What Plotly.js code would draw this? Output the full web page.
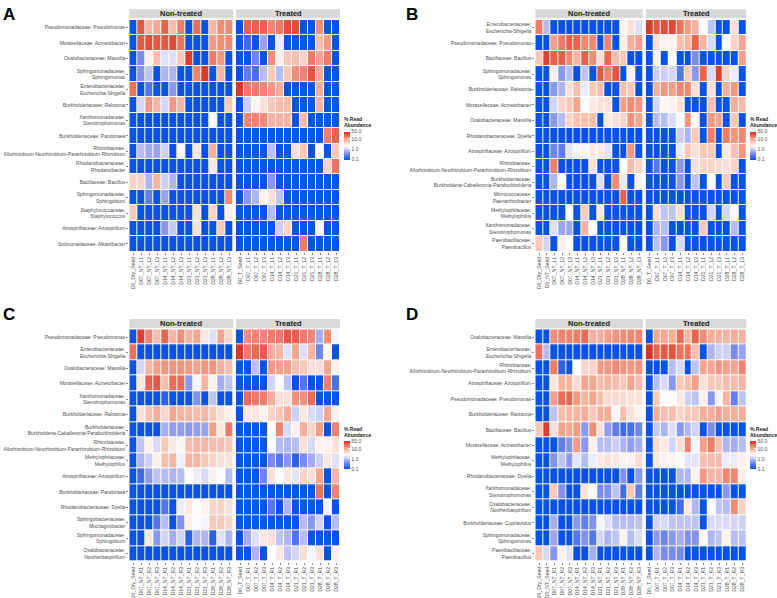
<!DOCTYPE html>
<html>
<head>
<meta charset="utf-8">
<script src="https://cdn.plot.ly/plotly-3.0.1.min.js"></script>
<style>
  html, body { margin: 0; padding: 0; background: #fff; }
  #chart { width: 777px; height: 598px; }
</style>
</head>
<body>
<div id="chart"></div>
<script>
// --- 1. labels ---
const colsA_nt = ["D0_Dry_Seed","D07_NT_L1","D07_NT_L2","D07_NT_L3","D14_NT_L1","D14_NT_L2","D14_NT_L3","D21_NT_L1","D21_NT_L2","D21_NT_L3","D28_NT_L1","D28_NT_L2","D28_NT_L3"];
const colsA_t  = ["D0_T_Seed","D07_T_L1","D07_T_L2","D07_T_L3","D14_T_L1","D14_T_L2","D14_T_L3","D21_T_L1","D21_T_L2","D21_T_L3","D28_T_L1","D28_T_L2","D28_T_L3"];
const colsB_nt = ["D0_Dry_Seed","D0_NT_Seed"].concat(colsA_nt.slice(1));
const colsB_t  = colsA_t;
const colsC_nt = ["D0_Dry_Seed","D07_NT_R1","D07_NT_R2","D07_NT_R3","D14_NT_R1","D14_NT_R2","D14_NT_R3","D21_NT_R1","D21_NT_R2","D21_NT_R3","D28_NT_R1","D28_NT_R2","D28_NT_R3"];
const colsC_t  = ["D0_T_Seed","D07_T_R1","D07_T_R2","D07_T_R3","D14_T_R1","D14_T_R2","D14_T_R3","D21_T_R1","D21_T_R2","D21_T_R3","D28_T_R1","D28_T_R2","D28_T_R3"];
const colsD_nt = ["D0_Dry_Seed","D0_NT_Seed"].concat(colsC_nt.slice(1));
const colsD_t  = colsC_t;

const ALLO = "Rhizobiaceae;<br>Allorhizobium-Neorhizobium-Pararhizobium-Rhizobium";
const BCP = "Burkholderiaceae;<br>Burkholderia-Caballeronia-Paraburkholderia";

const rowsA = ["Pseudomonadaceae; Pseudomonas","Moraxellaceae; Acinetobacter","Oxalobacteraceae; Massilia","Sphingomonadaceae;<br>Sphingomonas","Enterobacteriaceae;<br>Escherichia-Shigella","Burkholderiaceae; Ralstonia","Xanthomonadaceae;<br>Stenotrophomonas","Burkholderiaceae; Pandoraea",ALLO,"Rhodanobacteraceae;<br>Rhodanobacter","Bacillaceae; Bacillus","Sphingomonadaceae;<br>Sphingobium","Staphylococcaceae;<br>Staphylococcus","Azospirillaceae; Azospirillum","Solimonadaceae; Alkanibacter"];
const rowsB = ["Enterobacteriaceae;<br>Escherichia-Shigella","Pseudomonadaceae; Pseudomonas","Bacillaceae; Bacillus","Sphingomonadaceae;<br>Sphingomonas","Burkholderiaceae; Ralstonia","Moraxellaceae; Acinetobacter","Oxalobacteraceae; Massilia","Rhodanobacteraceae; Dyella","Azospirillaceae; Azospirillum",ALLO,BCP,"Micrococcaceae;<br>Paenarthrobacter","Methylophilaceae;<br>Methylophilus","Xanthomonadaceae;<br>Stenotrophomonas","Paenibacillaceae;<br>Paenibacillus"];
const rowsC = ["Pseudomonadaceae; Pseudomonas","Enterobacteriaceae;<br>Escherichia-Shigella","Oxalobacteraceae; Massilia","Moraxellaceae; Acinetobacter","Xanthomonadaceae;<br>Stenotrophomonas","Burkholderiaceae; Ralstonia",BCP,ALLO,"Methylophilaceae;<br>Methylophilus","Azospirillaceae; Azospirillum","Burkholderiaceae; Pandoraea","Rhodanobacteraceae; Dyella","Sphingobacteriaceae;<br>Mucilaginibacter","Sphingomonadaceae;<br>Sphingobium","Oxalobacteraceae;<br>Noviherbaspirillum"];
const rowsD = ["Oxalobacteraceae; Massilia","Enterobacteriaceae;<br>Escherichia-Shigella",ALLO,"Azospirillaceae; Azospirillum","Pseudomonadaceae; Pseudomonas","Burkholderiaceae; Ralstonia","Bacillaceae; Bacillus","Moraxellaceae; Acinetobacter","Methylophilaceae;<br>Methylophilus","Rhodanobacteraceae; Dyella","Xanthomonadaceae;<br>Stenotrophomonas","Oxalobacteraceae;<br>Noviherbaspirillum","Burkholderiaceae; Cupriavidus","Sphingomonadaceae;<br>Sphingomonas","Paenibacillaceae;<br>Paenibacillus"];

// --- 2. % read abundance (0 = not detected) ---
const valsA_nt = [
  [0,28,8,10,25,7,18,0,22,0,8,14,14],
  [0,28,32,28,28,35,20,0,0,0,12,14,14],
  [0,0.4,3,7,1.5,1.5,6,40,0,0,18,12,0],
  [0,0.45,1.0,0,0.8,0.8,0,0,16,42,0,8,0],
  [20,0,0.25,0,0,0.5,0,0,0,0,0,0,0],
  [0,1.3,12,8,1.3,12,8,0,0,0,0,0,6],
  [0,0,0,0,0,0,0,0,0,0,2.0,0,0],
  [0,0,0,0,0,0,0,0,0,0,0,0,0],
  [0,0.9,0.7,0.6,1.2,0,2.2,0,3.5,0,9,0,0],
  [0,0,0,0,0,0,0,0,0,0,3.5,0,0],
  [5,5,0.8,8,1.2,0.8,0,0,0,0,0,0,0],
  [0,0,0.3,0,0.6,0,0,0,0,0,0,0,15],
  [6,0,0,0,0,0,0,0,4,0,5,0,3],
  [0,0,0,0,0.5,1.1,0,0,4,0,0,6,0],
  [0,0,0,0,0,0,0,0,0,0,0,0,0]
];
const valsA_t = [
  [0,25,25,25,15,18,32,32,0,0,14,0,0],
  [0,0.2,0,0.6,0,1.8,0,0,0,0,7,12,0],
  [0,0,0.35,0,14,3,6,7,5,18,10,18,0],
  [0,0.3,0.22,0.9,6,0.9,6,14,16,30,9,0,0],
  [42,18,18,16,12,9,0,0,0,0,9,0,0],
  [0,1.2,2.8,4,6,7,7,0,0,0,8,0,0],
  [0,15,15,14,8,8,8,0,7,0,0,0,0],
  [0,0,0,0,0,0,0,0,0,0,0,17,25],
  [0,0,0,0,1.0,0,0,4,6,0,2.2,0,6],
  [0,0,0,0,0,0,0,0,0,0,0,5,20],
  [0,0,0,0,0.5,0,0,0,0,0,0,0,0],
  [0,0.5,0.8,3,4,1.0,0,0,0,0,0,0,0],
  [0,0,0,0,0.9,0,0,0,0,0,0,0,0],
  [0,0,0,0,0,1.2,5,0,0,0,2.8,0,0],
  [0,0,0,0,0,0,0,0,18,0,0,0,0]
];
const valsB_nt = [
  [18,0.9,0,0,0,0,0,0,0,0,0,3,4,1.5],
  [0,0,11,18,26,25,15,15,0,16,0,3,9,11],
  [6,38,26,26,15,8,26,14,4,23,7,6,0,0],
  [0,0,3,0.5,0.9,0,1.0,0,28,16,30,0,3,0],
  [0,0,0.5,0.8,4,7,1.8,6,7,0,0,7,6,0],
  [0,0,1.3,5,6,10,2.5,3.5,4,4,0,11,14,12],
  [0,0,0.5,0.9,5,7,7,7,0,3.5,4,5,13,10],
  [0,0,0,0,0,0,0,0,0,0,0,0,0,0],
  [0,0,0.35,0.3,1.6,2.0,2.0,3.5,3.5,1.6,0,0,13,0],
  [0,0,17,0,0,0,0,4,0,0,0,2.2,7,5],
  [0,0,0.8,2.2,0,0,0,0,1.5,0,14,1.7,0,3],
  [0,0,0,0,0,0,0,0,0,0,0,25,0,0],
  [0,0,0,0,2.2,0,6,0,3.5,0,0,0,0,0],
  [0,0,1.5,0.6,0.6,0,8,2.2,0,0,0,0,0,0],
  [6,1.3,0,3,2.2,0,0,0,0,0,0,2.2,0,0]
];
const valsB_t = [
  [42,28,32,35,20,12,8,2.2,1.0,0,0,4,0],
  [0,4,3,3,7,8,25,8,1.4,0,2.2,5,10],
  [0,3,0,2.2,0,0,0.4,0,0,0,0,0,11],
  [0,1.2,1.2,1.3,0.25,6,0.5,25,1.4,40,5,1.8,0],
  [0,9,12,11,15,15,4,0,4,0,9,12,0],
  [0,1.3,2.8,3,4,0,0,0,7,0,0,9,7],
  [0,0.9,0.9,1.4,2.2,13,2.2,0,12,10,0,6,0],
  [0,0,0,0,1.2,0.8,6,0,17,0,17,13,15],
  [0,0,0,0,1.8,6,4,6,6,0,3.5,7,12],
  [0,0.25,0,0,0.5,0,4,5,5,4.5,4,5,0],
  [0,0,0,0,0.5,0,1.0,0,2.2,0,6,0,0],
  [0,0,0,0,0,0,0,0,0,0,0,0,0],
  [0,4,1.0,1.0,4.5,0,0,0,1.3,0,1.3,2.5,0],
  [0,0.8,0.9,0,0,0,0,6,0,0,0,0.9,0],
  [0,0.9,0.5,0,1.4,0,0,0,0,0,0,0,0]
];
const valsC_nt = [
  [0,38,16,7,25,8,14,8,10,3.5,1.5,10,5],
  [20,0,0,0,0,0,0,0,0,0,0,0,0],
  [0,1.3,8,11,13,13,13,12,11,13,13,9,7],
  [0,3.5,25,28,7,22,22,0.5,2.0,8,3,0.7,1.0],
  [0,0,0,0,0.15,0,0,0,0.45,0,1.0,0,0],
  [0,4,7,9,5,10,8,8,7,8,6,4,3],
  [0,0,0,0,0.7,0.55,0.55,0.5,0.55,0.6,11,3.5,18],
  [0,1.0,3,1.4,6,3.5,2.8,7,8,8,7,7,6],
  [0,0.8,1.2,3,7,8,1.8,8,8,6,5,4,4],
  [0,0.2,0.5,1.0,0.9,0.8,0.9,2.2,1.8,1.4,3,2.2,0.9],
  [0,0,0,0,0,0,0,0,0,0,0,0,0],
  [0,0,0,0,0.25,0,1.8,3.5,2.2,3,5,5,4],
  [0,0,0,0.25,0.9,0,0.45,3,2.2,2.0,6,6,5],
  [0,0,3.5,0.5,1.3,0.7,1.3,0.15,0.8,0.8,0.15,1.5,0.8],
  [0,0,0,0,0,0,0,0,0,0,0,0,0]
];
const valsC_t = [
  [0,14,15,15,17,18,28,25,17,15,0.7,14,2.0],
  [45,18,23,27,9,8,1.5,10,1.5,8,0.35,3,0],
  [0,0,1.0,0,12,11,11,7,6,4,4,10,3],
  [0,0,0,0,1.3,2.2,1.0,0,0.25,0,0,17,0.22],
  [0,22,18,17,9,4,4,13,13,22,0,0,0],
  [0,3.5,3.5,3,5,6,9,1.2,3.5,1.4,1.2,10,3],
  [0,0,0,0,2.2,16,1.4,3,9,5,11,0,16],
  [0,0,0,0,2.2,0.9,0.8,0.9,4,1.4,3,3,4],
  [0,0,0,0,0.4,0.25,0.5,0.15,0.4,0.7,1.2,3.5,1.5],
  [0,0,0,0.35,4,2.2,3.5,1.6,5,4,10,0,8],
  [0,0,0,0,0,0,0,0,0,0,20,0,16],
  [0,0,0,0,0.25,0,0.8,0,0,0,0,2.0,0],
  [0,0,0,0,0,0,0,0,0.9,0.5,1.3,0,0.9],
  [0,0.7,1.5,3.5,4,1.0,0.8,0.25,0.9,0,0,0,0],
  [0,0,0.8,0,2.2,3.5,1.0,1.3,4,2.0,4,0,3]
];
const valsD_nt = [
  [0,0,14,16,17,17,23,9,9,11,13,14,15,15],
  [20,0.9,0,0,0,0,0,0,0,0,0,0,0,0],
  [0,0,18,0.15,0,2.2,5,5,12,12,15,13,12,13],
  [0,0,3.5,8,8,4.5,10,10,7,8,7,6,10,7],
  [0,0,11,22,24,12,8,10,7,4.5,4.5,4.5,4,4],
  [0,0,1.0,7,8,8,9,6,9,9,2.5,7,4,3],
  [6,40,4,10,10,12,0.5,14,4,0.55,0.3,0.2,0.22,0.35],
  [0,0,0,0.3,0.45,12,0.5,3,0.9,0.9,1.2,0.8,0.55,0.7],
  [0,0,0.45,1.0,0.5,1.6,0.9,1.8,3.5,4,3.5,3,3,4.5],
  [0,0,0,0,0,0,0,0,0,0,0,0.45,0,0.5],
  [0,0,6,0.45,0,0,4,2.5,0.4,0.45,1.0,0.2,6,0.3],
  [0,0,0,0,0,0,0,0,0,0,0,0,0,0],
  [0,0,0.7,0,0,0.5,0.3,0.45,2.0,1.5,0.9,0.9,0.9,1.0],
  [0,0,0.6,0,0,0.25,0.45,0.25,1.3,0.8,1.0,2.0,0.9,1.4],
  [6,1.4,0.5,3,1.5,0,0,0.7,0,0,0,0,0,0]
];
const valsD_t = [
  [0,10,10,9,22,8,24,14,9,9,8,9,8],
  [45,24,28,30,20,20,7,0,0.8,1.2,1.2,0.4,0.6],
  [0,0,0,0.9,1.4,0,1.0,10,10,13,11,10,15],
  [0,0.9,1.4,0.5,6,7,11,4,6,6,7,7,8],
  [0,6,2.5,2.5,3.5,1.2,1.0,3,0.5,2.0,8,0.3,1.0],
  [0,9,7,7,5,6,6,9,9,11,9,9,9],
  [0,1.1,0.8,1.5,0.5,0.8,1.3,0,0.4,0,0,0,0],
  [0,4.5,3.5,1.3,4,16,2.0,11,17,7,0.8,0.7,0.9],
  [0,3.5,3,2.8,2.5,1.6,1.6,7,7,7,1.8,1.8,3],
  [0,0,0,0,0.8,0.8,3,12,8,8,15,15,3],
  [0,0,0,0,0,0,0,0,0,0,0.5,0,0],
  [0,0,0,0,0.2,3.5,0.8,0,2.2,1.0,0.9,14,5],
  [0,1.3,1.4,1.0,1.0,1.0,1.0,0,1.4,1.4,1.4,1.3,1.2],
  [0,0.5,0.35,0.5,0.7,0.45,0.45,2.5,0.8,1.0,3.0,0.9,1.0],
  [0,0.8,0.4,0.4,0.4,0,0,0,0,0,0,0,0]
];

// --- 3. style ---
const FONT = "Liberation Sans, Arial, sans-serif";
const colorscale = [
  [0.0, "rgb(10,82,228)"],
  [0.12, "rgb(70,110,232)"],
  [0.25, "rgb(135,148,240)"],
  [0.4, "rgb(205,208,247)"],
  [0.5, "rgb(255,255,255)"],
  [0.62, "rgb(251,214,202)"],
  [0.75, "rgb(244,160,138)"],
  [0.88, "rgb(232,100,78)"],
  [1.0, "rgb(214,40,30)"]
];
const CMIN = -1, CMAX = Math.log10(52);

function toLog(m) {
  return m.map(r => r.map(v => Math.log10(Math.max(v, 0.1))));
}

const panels = [
  {letter: "A", rows: rowsA, nt: [colsA_nt, valsA_nt], t: [colsA_t, valsA_t], xa: ["x", "x2"], ya: "y",  ca: "coloraxis"},
  {letter: "B", rows: rowsB, nt: [colsB_nt, valsB_nt], t: [colsB_t, valsB_t], xa: ["x3", "x4"], ya: "y2", ca: "coloraxis2"},
  {letter: "C", rows: rowsC, nt: [colsC_nt, valsC_nt], t: [colsC_t, valsC_t], xa: ["x5", "x6"], ya: "y3", ca: "coloraxis3"},
  {letter: "D", rows: rowsD, nt: [colsD_nt, valsD_nt], t: [colsD_t, valsD_t], xa: ["x7", "x8"], ya: "y4", ca: "coloraxis4"}
];

// pixel geometry -> paper coords
const W = 777, H = 598;
const px = v => v / W, py = v => 1 - v / H;
const geom = {
  A: {f1: [129.3, 233.3], f2: [236, 340], top: 20, bot: 251.7, strip: [9.3, 18.3], lx: 1, ly: 3, cbx: 344, cby: 136.5},
  B: {f1: [535.3, 643], f2: [645.7, 746.3], top: 20, bot: 251.7, strip: [9.3, 18.3], lx: 404, ly: 3, cbx: 750, cby: 136.5},
  C: {f1: [129.3, 233.3], f2: [236, 340], top: 329.3, bot: 561.7, strip: [319, 328], lx: 1, ly: 303, cbx: 344, cby: 446.5},
  D: {f1: [535.3, 643], f2: [645.7, 746.3], top: 329.3, bot: 561.7, strip: [319, 328], lx: 404, ly: 303, cbx: 750, cby: 446.5}
};

const traces = [];
const layout = {
  width: W, height: H,
  margin: {l: 0, r: 0, t: 0, b: 0},
  paper_bgcolor: "#fff", plot_bgcolor: "#fff",
  font: {family: FONT, color: "#4d4d4d"},
  showlegend: false,
  shapes: [], annotations: []
};

function xAxisDef(dom, ya) {
  return {
    domain: dom, anchor: ya, type: "category",
    tickangle: -90, tickfont: {size: 5.2, color: "#4d4d4d"},
    ticks: "outside", ticklen: 2, tickwidth: 0.6, tickcolor: "#333",
    showgrid: false, zeroline: false, showline: false, fixedrange: true
  };
}

panels.forEach(p => {
  const g = geom[p.letter];
  const facets = [[p.nt, g.f1, "Non-treated"], [p.t, g.f2, "Treated"]];
  facets.forEach((f, i) => {
    const [cols, vals] = f[0];
    traces.push({
      type: "heatmap", x: cols, y: p.rows, z: toLog(vals),
      xaxis: p.xa[i], yaxis: p.ya, coloraxis: p.ca,
      xgap: 1, ygap: 1, hoverinfo: "skip"
    });
    const xkey = "xaxis" + (p.xa[i] === "x" ? "" : p.xa[i].slice(1));
    layout[xkey] = xAxisDef([px(f[1][0]), px(f[1][1])], p.ya);

    // facet strip
    layout.shapes.push({
      type: "rect", xref: p.xa[i] + " domain", yref: "paper",
      x0: 0, x1: 1, y0: py(g.strip[1]), y1: py(g.strip[0]),
      fillcolor: "#d9d9d9", line: {width: 0}
    });
    layout.annotations.push({
      xref: p.xa[i] + " domain", yref: "paper", x: 0.5, y: py((g.strip[0] + g.strip[1]) / 2),
      text: "<b>" + f[2] + "</b>", showarrow: false, yanchor: "middle",
      font: {size: 7.5, color: "#1a1a1a", family: FONT}
    });
  });

  const ykey = "yaxis" + (p.ya === "y" ? "" : p.ya.slice(1));
  layout[ykey] = {
    domain: [py(g.bot), py(g.top)], anchor: p.xa[0], type: "category",
    autorange: "reversed", tickfont: {size: 5.0, color: "#4d4d4d"},
    ticks: "outside", ticklen: 2, tickwidth: 0.6, tickcolor: "#333",
    showgrid: false, zeroline: false, showline: false, fixedrange: true
  };

  layout[p.ca] = {
    colorscale: colorscale, cmin: CMIN, cmax: CMAX,
    colorbar: {
      x: px(g.cbx), xanchor: "left", xpad: 0,
      y: py(g.cby), yanchor: "middle", ypad: 0,
      len: 45, lenmode: "pixels", thickness: 6,
      outlinewidth: 0,
      tickvals: [-1, 0, 1, Math.log10(50)],
      ticktext: ["0.1", "1.0", "10.0", "50.0"],
      ticks: "inside", ticklen: 2, tickcolor: "#fff",
      tickfont: {size: 5.0, color: "#4d4d4d"},
      title: {text: "<b>% Read<br>Abundance</b>", side: "top", font: {size: 5.0, color: "#1a1a1a"}}
    }
  };

  // panel letter
  layout.annotations.push({
    xref: "paper", yref: "paper", x: px(g.lx), y: py(g.ly),
    xanchor: "left", yanchor: "top", text: "<b>" + p.letter + "</b>",
    showarrow: false, font: {size: 17, color: "#000", family: FONT}
  });
});

Plotly.newPlot("chart", traces, layout, {displayModeBar: false, staticPlot: true});
</script>
</body>
</html>
